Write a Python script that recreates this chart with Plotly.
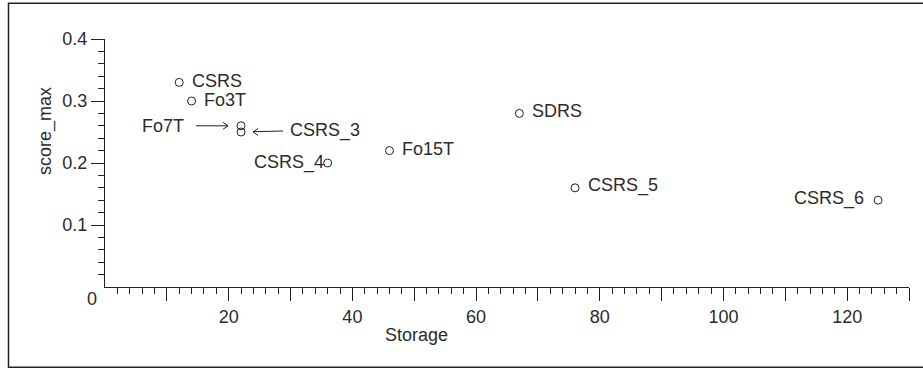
import plotly.graph_objects as go

# Data: peak score versus storage for each method
names = ["CSRS", "Fo3T", "Fo7T", "CSRS_3", "CSRS_4", "Fo15T", "SDRS", "CSRS_5", "CSRS_6"]
storage = [12, 14, 22, 22, 36, 46, 67, 76, 125]
score_max = [0.33, 0.30, 0.26, 0.25, 0.20, 0.22, 0.28, 0.16, 0.14]

# Axis ticks
x_major = list(range(10, 131, 10))
x_major_text = [str(v) if v % 20 == 0 else "" for v in x_major]
x_minor = [v for v in range(2, 131, 2) if v % 10]
y_major = [0.1, 0.2, 0.3, 0.4]
y_major_text = ["0.1", "0.2", "0.3", "0.4"]
y_minor = [round(i * 0.02, 2) for i in range(1, 20) if i % 5]

# Label placement: (anchor side, horizontal pixel shift, vertical pixel shift)
plain_labels = {
    "CSRS": ("left", 13, 1),
    "Fo3T": ("left", 12, 1),
    "CSRS_4": ("right", -4, 1),
    "Fo15T": ("left", 13, 2),
    "SDRS": ("left", 13, 2),
    "CSRS_5": ("left", 13, 2),
    "CSRS_6": ("right", -14, 2),
}
# Labels joined to their point by an arrow: (text offset x, text offset y, pad, standoff)
arrow_labels = {
    "Fo7T": (-78, 0, 12, 13),
    "CSRS_3": (84, -2, 7, 12),
}

INK = "#222222"
TEXT = "#2b2b2b"
FONT = "Liberation Sans, Arial, Helvetica, sans-serif"
FS = 18

W, H = 923, 368
ML, MR, MT, MB = 105, 14, 39, 81
PW, PH = W - ML - MR, H - MT - MB


def px_to_paper(px, py):
    return (px - ML) / PW, (H - MB - py) / PH


fig = go.Figure()
fig.add_trace(go.Scatter(
    x=storage, y=score_max, mode="markers",
    marker=dict(symbol="circle-open", size=8, color=INK, line=dict(width=1, color=INK)),
    cliponaxis=False, hoverinfo="skip",
))

annotations = []
shapes = []
for name, x, y in zip(names, storage, score_max):
    if name in plain_labels:
        side, dx, dy = plain_labels[name]
        annotations.append(dict(
            x=x, y=y, xref="x", yref="y", text=name, showarrow=False,
            xanchor=side, yanchor="middle", xshift=dx, yshift=dy,
            borderpad=0, borderwidth=0,
            font=dict(family=FONT, size=FS, color=TEXT),
        ))
    elif name in arrow_labels:
        ax, ay, pad, stand = arrow_labels[name]
        # arrow shaft from the label to just short of the point
        annotations.append(dict(
            x=x, y=y, xref="x", yref="y", text=name, showarrow=True,
            ax=ax, ay=ay, axref="pixel", ayref="pixel",
            arrowhead=0, arrowwidth=1, arrowcolor=INK,
            standoff=stand, borderpad=pad, borderwidth=0,
            font=dict(family=FONT, size=FS, color=TEXT),
        ))
        # open chevron head at the shaft tip, anchored on the point
        d = -1 if ax < 0 else 1
        tip = d * stand
        back = d * (stand + 5)
        shapes.append(dict(
            type="path", xref="x", yref="y",
            xsizemode="pixel", ysizemode="pixel", xanchor=x, yanchor=y,
            path=f"M {back},3.5 L {tip},0 L {back},-3.5",
            line=dict(color=INK, width=1), fillcolor="rgba(0,0,0,0)",
        ))

# Origin label for the y axis
annotations.append(dict(
    x=0, y=0, xref="x", yref="y", text="0", showarrow=False,
    xanchor="center", yanchor="middle", xshift=-13, yshift=-12,
    font=dict(family=FONT, size=FS, color=TEXT),
))

# Axis titles
tx, ty = px_to_paper(416, 335)
annotations.append(dict(
    x=tx, y=ty, xref="paper", yref="paper", text="Storage", showarrow=False,
    xanchor="center", yanchor="middle",
    font=dict(family=FONT, size=FS, color=TEXT),
))
tx, ty = px_to_paper(45, 131)
annotations.append(dict(
    x=tx, y=ty, xref="paper", yref="paper", text="score_max", showarrow=False,
    xanchor="center", yanchor="middle", textangle=-90,
    font=dict(family=FONT, size=FS, color=TEXT),
))

# Outer frame
fx0, fy0 = px_to_paper(8.5, 367.3)
fx1, fy1 = px_to_paper(930, 3.3)
shapes.append(dict(
    type="rect", xref="paper", yref="paper", x0=fx0, y0=fy0, x1=fx1, y1=fy1,
    line=dict(color=INK, width=1.5), fillcolor="rgba(0,0,0,0)", layer="below",
))

fig.update_layout(
    width=W, height=H,
    margin=dict(l=ML, r=MR, t=MT, b=MB, pad=0),
    paper_bgcolor="white", plot_bgcolor="white",
    showlegend=False,
    annotations=annotations,
    shapes=shapes,
    font=dict(family=FONT, size=FS, color=TEXT),
    xaxis=dict(
        range=[0, 130], showgrid=False, zeroline=False,
        showline=True, linecolor=INK, linewidth=1,
        tickmode="array", tickvals=x_major, ticktext=x_major_text,
        ticks="outside", ticklen=13, tickwidth=1, tickcolor=INK,
        tickfont=dict(family=FONT, size=FS, color=TEXT),
        minor=dict(tickmode="array", tickvals=x_minor, ticks="outside",
                   ticklen=6, tickwidth=1, tickcolor=INK, showgrid=False),
    ),
    yaxis=dict(
        range=[0, 0.4], showgrid=False, zeroline=False,
        showline=True, linecolor=INK, linewidth=1,
        tickmode="array", tickvals=y_major, ticktext=y_major_text,
        ticks="outside", ticklen=13, tickwidth=1, tickcolor=INK,
        tickfont=dict(family=FONT, size=FS, color=TEXT),
        minor=dict(tickmode="array", tickvals=y_minor, ticks="outside",
                   ticklen=6, tickwidth=1, tickcolor=INK, showgrid=False),
    ),
)

fig.write_html("out.html")
